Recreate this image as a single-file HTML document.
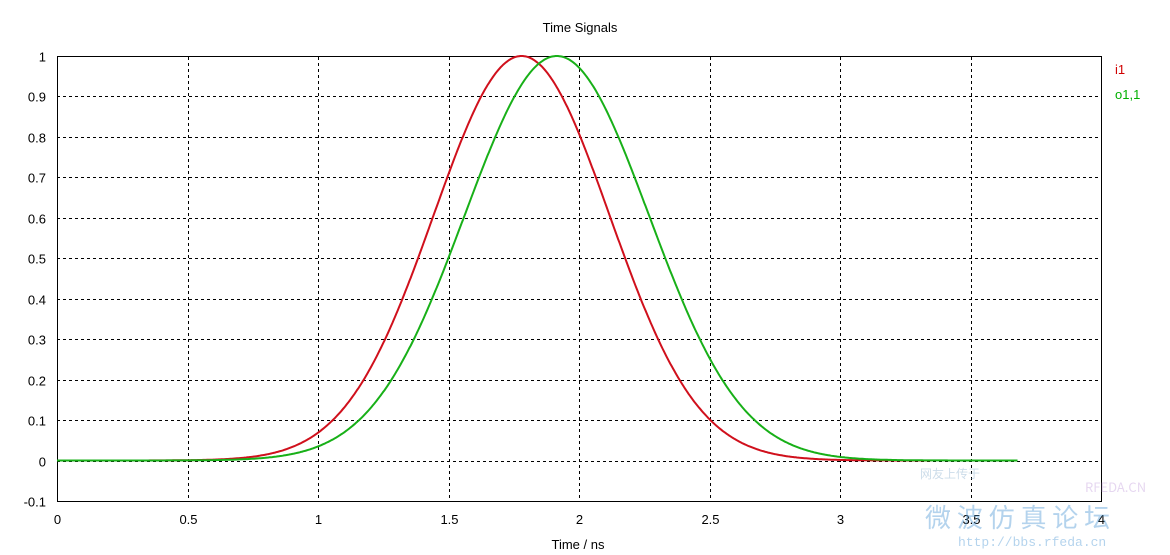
<!DOCTYPE html>
<html><head><meta charset="utf-8"><style>
body{margin:0;background:#fff;}
svg{display:block;font-family:"Liberation Sans",Tahoma,sans-serif;}
</style></head><body>
<svg id="s" width="1170" height="555" xmlns="http://www.w3.org/2000/svg">
<rect width="1170" height="555" fill="#fff"/>
<g id="grid" stroke="#000" stroke-width="1" stroke-dasharray="3,3" shape-rendering="crispEdges"></g>
<rect x="57.5" y="56.5" width="1044" height="445" fill="none" stroke="#000" shape-rendering="crispEdges"/>
<g id="labels" font-size="13" fill="#000"></g>
<text x="580" y="32" font-size="13" text-anchor="middle">Time Signals</text>
<text x="578" y="549" font-size="13" text-anchor="middle">Time / ns</text>
<text x="1115" y="74" font-size="13" fill="#d00000">i1</text>
<text x="1115" y="99" font-size="13" fill="#00b000">o1,1</text>
<path id="red" fill="none" stroke="#d0101c" stroke-width="2"/>
<path id="green" fill="none" stroke="#18b018" stroke-width="2"/>
<g opacity="0.45" font-family="'Noto Sans CJK SC',sans-serif">
<text x="920" y="478" font-size="12" fill="#8fb3d0">网友上传于</text>
<text x="1085" y="492" font-size="13" fill="#c8a8e0">RFEDA.CN</text>
<text x="925" y="527" font-size="26" fill="#5aa0d8">微 波 仿 真 论 坛</text>
<text x="958" y="546" font-size="13" fill="#5aa0d8" font-family="'Liberation Mono',monospace">http://bbs.rfeda.cn</text>
</g>
</svg>
<script>
const X=t=>57+t*261, Y=v=>460.5-v*404.5;
let g='',l='';
for(let i=0;i<=8;i++){const x=Math.round(X(i*0.5))+0.5;
 if(i>0&&i<8)g+=`<line x1="${x}" y1="57" x2="${x}" y2="501"/>`;
 l+=`<text x="${x}" y="524" text-anchor="middle">${i*0.5}</text>`;}
for(let k=-1;k<=10;k++){const y=Math.round(Y(k/10))+0.5;
 if(k>-1&&k<10)g+=`<line x1="57" y1="${y}" x2="1101" y2="${y}"/>`;
 const lab=k==10?'1':k==0?'0':(k/10).toString();
 l+=`<text x="46" y="${y+5}" text-anchor="end">${lab}</text>`;}
document.getElementById('grid').innerHTML=g;
document.getElementById('labels').innerHTML=l;
function path(mu,s,end){let d='';for(let t=0;t<=end;t+=0.005){const v=Math.exp(-(t-mu)*(t-mu)/(2*s*s));d+=(d?'L':'M')+X(t).toFixed(1)+','+Y(v).toFixed(1);}return d;}
document.getElementById('red').setAttribute('d',path(1.78,0.337,3.35));
document.getElementById('green').setAttribute('d',path(1.915,0.353,3.68));
</script>
</body></html>
